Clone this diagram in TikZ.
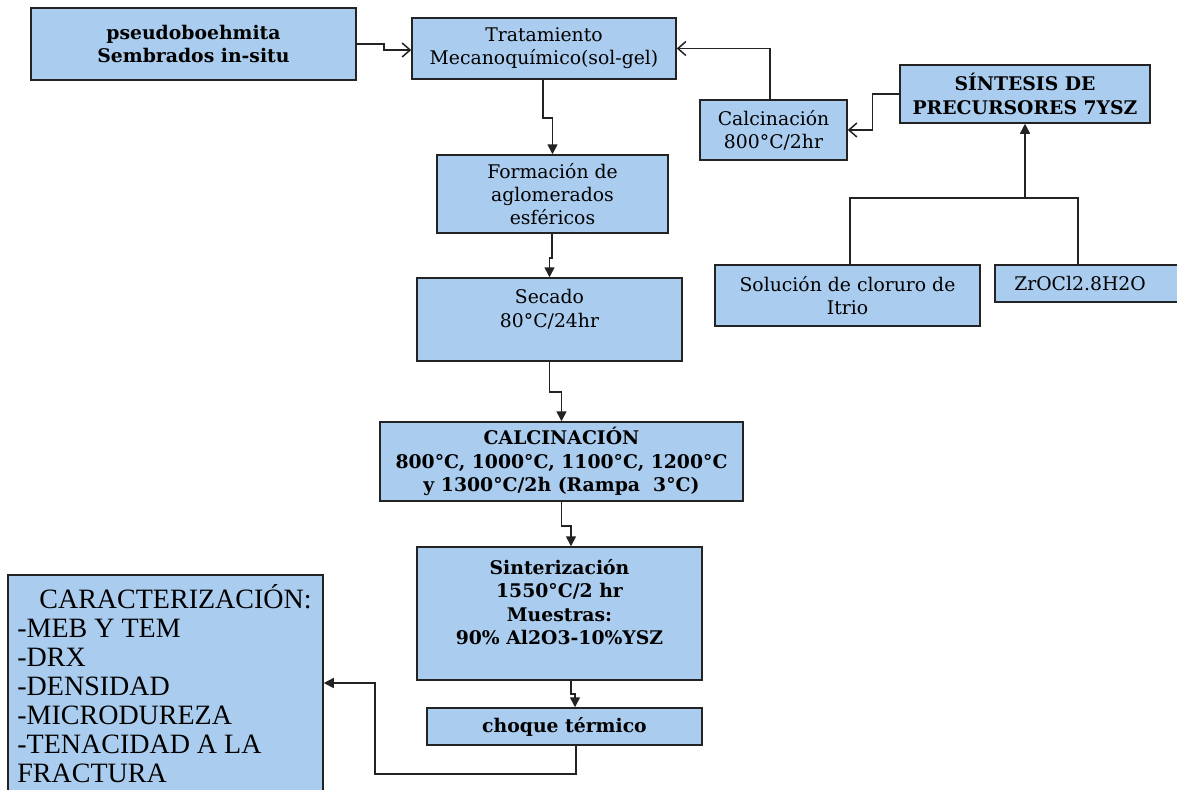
\documentclass[tikz,border=0pt]{standalone}
\usepackage{fontspec}
\setmainfont{DejaVu Serif}
\newfontfamily\listfont{Liberation Serif}
\usetikzlibrary{arrows.meta,calc}
\definecolor{boxblue}{RGB}{170,204,238}
\definecolor{edge}{RGB}{35,35,35}
\begin{document}
\begin{tikzpicture}[x=0.5pt,y=-0.5pt,
  stepbox/.style={draw=edge, fill=boxblue, line width=0.75pt, inner sep=0pt,
    align=center, font=\fontsize{9.4}{11.6}\selectfont},
  boldbox/.style={stepbox, font=\fontsize{9.4}{11.6}\selectfont\bfseries},
  txt/.style={inner sep=0pt, align=center, font=\fontsize{9.4}{11.6}\selectfont},
  link/.style={draw=edge, line width=0.75pt},
  openarrow/.style={link, -{Straight Barb[length=4pt,width=7pt]}},
  fillarrow/.style={link, -{Triangle[length=5pt,width=5pt]}}]
\clip (0,0) rectangle (1177,789);
\fill[white] (0,0) rectangle (1177,789);

% process boxes
\node[boldbox, minimum width=162.5pt, minimum height=36pt] (pseudo) at (193.5,44)
  {pseudoboehmita\\Sembrados in-situ};
\node[stepbox, minimum width=132pt, minimum height=30.5pt] (trat) at (544,48.5)
  {Tratamiento\\Mecanoquímico(sol-gel)};
\node[stepbox, minimum width=73.5pt, minimum height=30pt] (calc1) at (773.5,130)
  {Calcinación\\800°C/2hr};
\node[boldbox, minimum width=125pt, minimum height=29pt] (sint7) at (1025,94)
  {SÍNTESIS DE\\PRECURSORES 7YSZ};
\node[stepbox, minimum width=132.5pt, minimum height=30.5pt] (sol) at (847.5,295.5)
  {Solución de cloruro de\\Itrio};
\node[stepbox, minimum width=97.5pt, minimum height=18.5pt] (zr) at (1092.5,283.5)
  {ZrOCl2.8H2O\hspace*{12.5pt}};
\node[stepbox, minimum width=115.5pt, minimum height=39pt] (form) at (552.5,194)
  {Formación de\\aglomerados\\esféricos};
\node[stepbox, minimum width=132.5pt, minimum height=41.5pt] (sec) at (549.5,319.5) {};
\node[txt, anchor=north] (sectext) at ($(sec.north)+(0,12)$) {Secado\\80°C/24hr};
\node[boldbox, minimum width=181.5pt, minimum height=39.5pt] (calc2) at (561.5,461.5)
  {CALCINACIÓN\\800°C, 1000°C, 1100°C, 1200°C\\y 1300°C/2h (Rampa\ \ 3°C)};
\node[boldbox, minimum width=142.5pt, minimum height=66.5pt] (sinter) at (559.5,613.5) {};
\node[txt, anchor=north, font=\fontsize{9.4}{11.6}\selectfont\bfseries] (sintertext)
  at ($(sinter.north)+(0,13)$) {Sinterización\\1550°C/2 hr\\Muestras:\\90\% Al2O3-10\%YSZ};
\node[boldbox, minimum width=137.5pt, minimum height=18.5pt] (choque) at (564.5,726.5)
  {choque térmico};
\node[stepbox, minimum width=157.5pt, minimum height=112.5pt] (caract) at (165.5,687.5) {};
\node[anchor=north west, inner sep=0pt, align=left,
  font=\listfont\fontsize{14}{14.5}\selectfont] (clist) at (17,584)
  {\hspace*{11pt}CARACTERIZACIÓN:\\-MEB Y TEM\\-DRX\\-DENSIDAD\\-MICRODUREZA\\-TENACIDAD A LA\\FRACTURA};

% connectors
\draw[openarrow] (pseudo.east) -- ++(27,0) |- ($(trat.west)+(0,1.5)$);
\draw[openarrow] ($(calc1.north)+(-3.5,0)$) |- (trat.east);
\draw[openarrow] (sint7.west) -- ++(-27,0) |- (calc1.east);
\coordinate (jn) at ($(sint7.south)+(0,74)$);
\draw[link] ($(sol.north)+(2.5,0)$) |- (jn) -| ($(zr.north)+(-14.5,0)$);
\draw[fillarrow] (jn) -- (sint7.south);
\draw[fillarrow] ($(trat.south)+(-1,0)$) -- ++(0,38) -| (form.north);
\draw[fillarrow] ($(form.south)+(-0.5,0)$) -- ++(0,24) -| (sec.north);
\draw[fillarrow] (sec.south) -- ++(0,30) -| (calc2.north);
\draw[fillarrow] (calc2.south) -- ++(0,24) -| ($(sinter.north)+(11.5,0)$);
\draw[fillarrow] ($(sinter.south)+(11.5,0)$) -- ++(0,13) -| ($(choque.north)+(10.5,0)$);
\draw[fillarrow] ($(choque.south)+(11.5,0)$) -- ++(0,28) -| ($(caract.east)+(51,-4.5)$)
  -- ($(caract.east)+(0,-4.5)$);
\end{tikzpicture}
\end{document}
